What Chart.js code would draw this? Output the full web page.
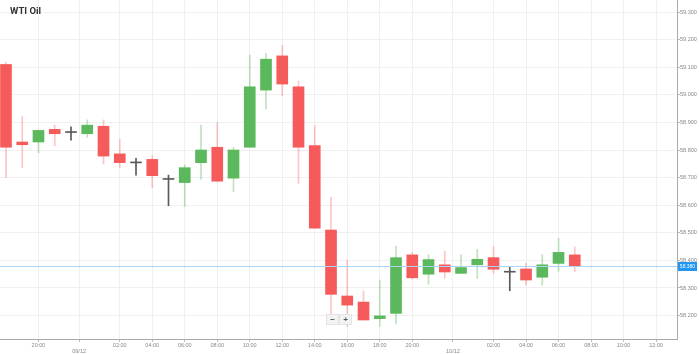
<!DOCTYPE html>
<html>
<head>
<meta charset="utf-8">
<script src="https://cdn.jsdelivr.net/npm/chart.js@4/dist/chart.umd.min.js"></script>
<style>
  html, body { margin: 0; padding: 0; background: #fff; }
  #wrap { position: relative; width: 699px; height: 354px; }
  #title { position: absolute; left: 10px; top: 5px; font: bold 9.5px Roboto, Arial, sans-serif; color: #333; }
  .zbtn { position: absolute; top: 314px; width: 11px; height: 9px; background: #f3f3f3; border: 1px solid #e4e4e4;
          font: bold 8px Arial, sans-serif; color: #555; text-align: center; line-height: 9px; }
</style>
</head>
<body>
<div id="wrap">
  <canvas id="oilChart" width="699" height="354"></canvas>
  <div id="title">WTI Oil</div>
  <div class="zbtn" style="left:326px">−</div>
  <div class="zbtn" style="left:339px">+</div>
</div>
<script>
// hourly candles, index 0 = 18:00 of the previous day
const opens  = [59.110, 58.829, 58.829, 58.875, 58.865, 58.859, 58.886, 58.786, 58.755, 58.766, 58.695, 58.682, 58.754, 58.810, 58.698, 58.810, 59.017, 59.141, 59.029, 58.816, 58.510, 58.271, 58.249, 58.189, 58.208, 58.420, 58.350, 58.384, 58.353, 58.384, 58.410, 58.359, 58.369, 58.339, 58.389, 58.420];
const highs  = [59.119, 58.921, 58.872, 58.890, 58.884, 58.909, 58.909, 58.839, 58.770, 58.778, 58.709, 58.746, 58.890, 58.900, 58.810, 59.144, 59.150, 59.180, 59.050, 58.888, 58.629, 58.401, 58.289, 58.329, 58.452, 58.429, 58.420, 58.434, 58.420, 58.440, 58.450, 58.377, 58.390, 58.420, 58.480, 58.449];
const lows   = [58.700, 58.736, 58.790, 58.815, 58.836, 58.846, 58.749, 58.736, 58.709, 58.663, 58.598, 58.595, 58.694, 58.687, 58.649, 58.810, 58.949, 58.996, 58.679, 58.517, 58.191, 58.160, 58.184, 58.160, 58.170, 58.332, 58.314, 58.335, 58.353, 58.335, 58.353, 58.290, 58.311, 58.310, 58.360, 58.359];
const closes = [58.810, 58.819, 58.871, 58.859, 58.865, 58.890, 58.778, 58.754, 58.755, 58.707, 58.695, 58.736, 58.800, 58.687, 58.800, 59.029, 59.129, 59.039, 58.810, 58.517, 58.277, 58.238, 58.184, 58.199, 58.410, 58.337, 58.403, 58.358, 58.374, 58.404, 58.368, 58.359, 58.329, 58.384, 58.429, 58.379];

const tickPos    = [2, 4.5, 7, 9, 11, 13, 15, 17, 19, 21, 23, 25, 27.5, 30, 32, 34, 36, 38, 40];
const tickLabels = ['20:00', ['', '09/12'], '02:00', '04:00', '06:00', '08:00', '10:00', '12:00', '14:00', '16:00',
                    '18:00', '20:00', ['', '10/12'], '02:00', '04:00', '06:00', '08:00', '10:00', '12:00'];
const priceTicks = [58.2, 58.3, 58.4, 58.5, 58.6, 58.7, 58.8, 58.9, 59.0, 59.1, 59.2, 59.3];
const currentPrice = 58.380;

const UP = '#5cb85c', DOWN = '#f65b5b', DOJI = '#5a5a5a';

function candleColor(i) {
    if (closes[i] > opens[i]) return UP;
    if (closes[i] < opens[i]) return DOWN;
    return DOJI;
}

function wickColor(i) {
    if (closes[i] > opens[i]) return 'rgba(92,184,92,0.4)';
    if (closes[i] < opens[i]) return 'rgba(246,91,91,0.35)';
    return DOJI;
}

const bodyData = opens.map((o, i) => {
    if (o === closes[i]) return { x: i, y: [o - 0.0018, o + 0.0018] };
    return { x: i, y: [o, closes[i]] };
});
const wickData = opens.map((o, i) => ({ x: i, y: [lows[i], highs[i]] }));

const priceLine = {
    id: 'priceLine',
    afterDatasetsDraw(chart) {
        const { ctx, chartArea } = chart;
        const y = Math.round(chart.scales.y.getPixelForValue(currentPrice)) + 0.5;
        ctx.save();
        ctx.strokeStyle = '#a9d6f7';
        ctx.lineWidth = 1;
        ctx.beginPath();
        ctx.moveTo(chartArea.left, y);
        ctx.lineTo(chartArea.right, y);
        ctx.stroke();
        ctx.fillStyle = '#2196f3';
        ctx.fillRect(chartArea.right + 1, y - 4.5, 19, 9);
        ctx.fillStyle = '#fff';
        ctx.font = '5px Arial, sans-serif';
        ctx.textBaseline = 'middle';
        ctx.textAlign = 'center';
        ctx.fillText(currentPrice.toFixed(3), chartArea.right + 10.5, y);
        ctx.restore();
    }
};

new Chart(document.getElementById('oilChart'), {
    type: 'bar',
    data: {
        datasets: [
            {
                label: 'body',
                data: bodyData,
                backgroundColor: opens.map((o, i) => candleColor(i)),
                borderWidth: 0,
                barThickness: 11,
                grouped: false,
                order: 1
            },
            {
                label: 'wick',
                data: wickData,
                backgroundColor: opens.map((o, i) => wickColor(i)),
                borderWidth: 0,
                barThickness: 1,
                grouped: false,
                order: 2
            }
        ]
    },
    options: {
        responsive: false,
        animation: false,
        layout: { padding: 0 },
        plugins: { legend: { display: false }, tooltip: { enabled: false } },
        scales: {
            x: {
                type: 'linear',
                min: -0.369,
                max: 41.29,
                offset: false,
                grid: { color: '#f0f0f0', offset: false, tickLength: 3, tickColor: '#bbb' },
                border: { color: '#aaa' },
                ticks: {
                    autoSkip: false,
                    maxRotation: 0,
                    padding: 0,
                    color: '#888',
                    font: { size: 5.5, family: 'Arial' },
                    callback: function(value) {
                        const k = tickPos.indexOf(value);
                        return k >= 0 ? tickLabels[k] : '';
                    }
                },
                afterBuildTicks: function(scale) {
                    scale.ticks = tickPos.map(v => ({ value: v }));
                },
                afterFit: function(scale) {
                    scale.height = 15;
                    scale.paddingLeft = 0;
                    scale.paddingRight = 0;
                }
            },
            y: {
                position: 'right',
                min: 58.1152,
                max: 59.3435,
                grid: { color: '#f0f0f0', tickLength: 3, tickColor: '#bbb' },
                border: { color: '#aaa' },
                ticks: {
                    padding: 0,
                    color: '#888',
                    font: { size: 5.5, family: 'Arial' },
                    callback: function(value) {
                        return value.toFixed(3);
                    }
                },
                afterBuildTicks: function(scale) {
                    scale.ticks = priceTicks.map(v => ({ value: v }));
                },
                afterFit: function(scale) {
                    scale.width = 22;
                    scale.paddingTop = 0;
                    scale.paddingBottom = 0;
                }
            }
        }
    },
    plugins: [priceLine]
});
</script>
</body>
</html>
